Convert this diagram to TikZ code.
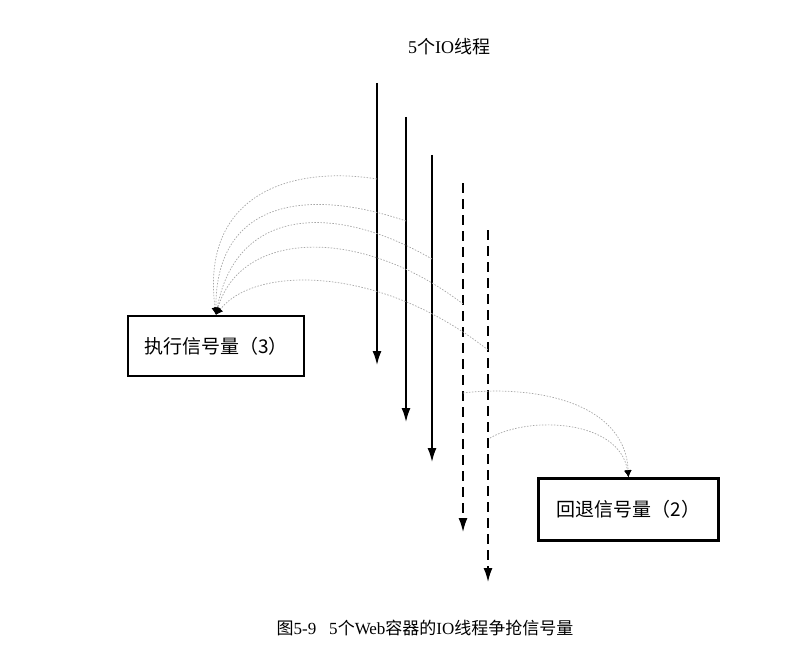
\documentclass[tikz,border=0pt]{standalone}
\usepackage{fontspec}
\setmainfont{Liberation Serif}
\newfontfamily\cjk{Noto Sans CJK SC}
\usetikzlibrary{arrows.meta}
\begin{document}
\begin{tikzpicture}[x=1pt,y=-1pt,
  thread/.style={line width=1.5pt,-{Latex[length=14pt,width=9pt]}},
  dthread/.style={thread,dash pattern=on 10pt off 6pt},
  sig/.style={draw,line width=2.5pt,minimum width=176pt,minimum height=60pt,font=\fontsize{19}{22}\selectfont\cjk},
  link/.style={gray!70,line width=0.7pt,dash pattern=on 1.5pt off 1.5pt,-{Latex[length=7pt,width=7pt,black]}}]
\useasboundingbox (0,0) rectangle (799,655);
\node[font=\fontsize{18}{21}\selectfont] (title) at (449,47) {5{\cjk 个}IO{\cjk 线程}};
% threads
\coordinate (t1s) at (377,83);  \coordinate (t1e) at (377,365);
\coordinate (t2s) at (406,117); \coordinate (t2e) at (406,422);
\coordinate (t3s) at (432,155); \coordinate (t3e) at (432,462);
\coordinate (t4s) at (463,183); \coordinate (t4e) at (463,532);
\coordinate (t5s) at (488,230); \coordinate (t5e) at (488,582);
\draw[thread] (t1s) -- (t1e);
\draw[thread] (t2s) -- (t2e);
\draw[thread] (t3s) -- (t3e);
\draw[dthread] (t4s) -- (t4e);
\draw[dthread] (t5s) -- (t5e);
% boxes
\node[sig] (exec) at (216,346) {执行信号量（3）};
\node[sig,minimum width=180pt,minimum height=62pt] (back) at (628.5,509.5) {回退信号量（2）};
% acquire points
\coordinate (a1) at (377,179);
\coordinate (a2) at (406,221);
\coordinate (a3) at (432,259);
\coordinate (a4) at (463,304);
\coordinate (a5) at (488,350);
\coordinate (r4) at (463,393);
\coordinate (r5) at (490,438);
\draw[link] (a1) .. controls (290,165) and (200,195) .. (exec.north);
\draw[link] (a2) .. controls (300,185) and (215,205) .. (exec.north);
\draw[link] (a3) .. controls (330,200) and (235,210) .. (exec.north);
\draw[link] (a4) .. controls (360,225) and (240,230) .. (exec.north);
\draw[link] (a5) .. controls (380,265) and (255,265) .. (exec.north);
\draw[link] (r4) .. controls (530,385) and (625,400) .. (back.north);
\draw[link] (r5) .. controls (530,415) and (620,420) .. (back.north);
\node[font=\fontsize{17}{20}\selectfont] (caption) at (425,628) {{\cjk 图}5-9\hspace{13pt}5{\cjk 个}Web{\cjk 容器的}IO{\cjk 线程争抢信号量}};
\end{tikzpicture}
\end{document}
